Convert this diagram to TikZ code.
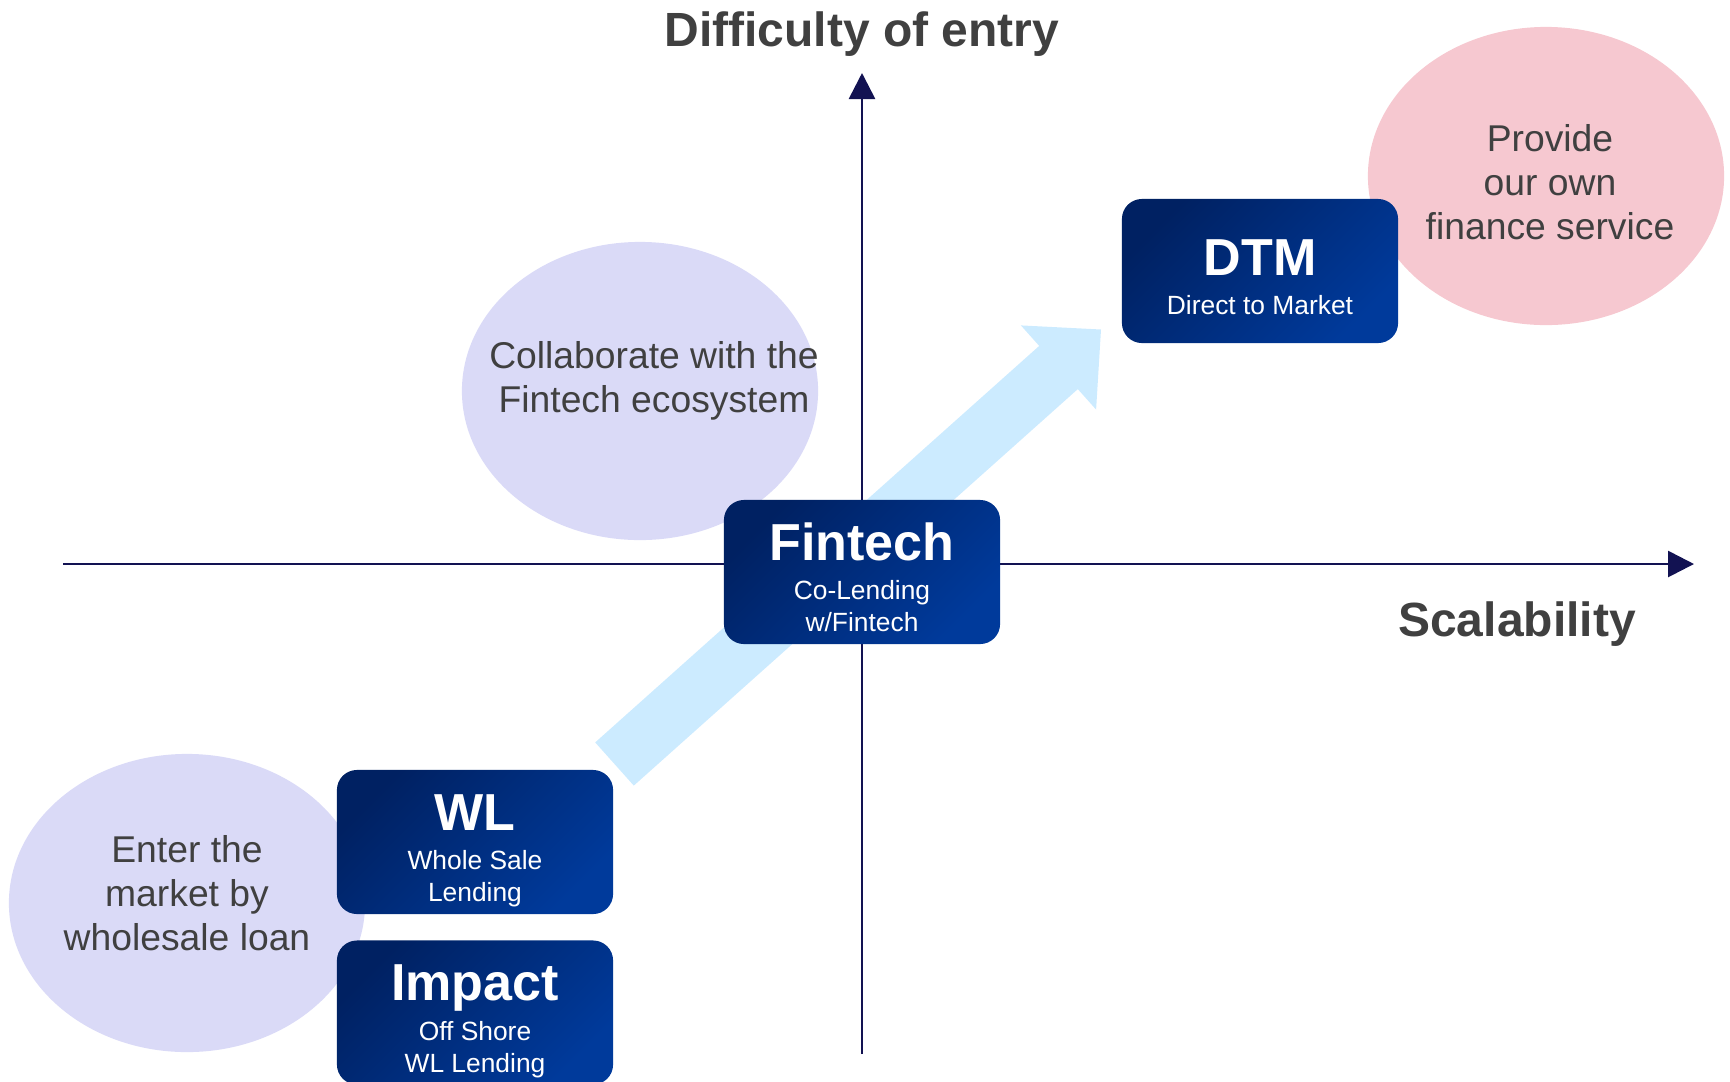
\documentclass[tikz,border=0pt]{standalone}
\usepackage{fontspec}
\setmainfont{Liberation Sans}
\usetikzlibrary{shapes.geometric,arrows.meta,positioning}
\definecolor{boxdark}{RGB}{0,33,98}
\definecolor{boxlight}{RGB}{0,58,155}
\definecolor{axisblue}{RGB}{18,18,82}
\definecolor{textgrey}{RGB}{64,64,64}
\definecolor{lavender}{RGB}{218,218,247}
\definecolor{pinkfill}{RGB}{246,200,208}
\definecolor{arrowblue}{RGB}{204,235,255}
% big first line and even last line of a box
\newcommand{\boxhead}[1]{\rule{0pt}{15.3pt}{\bfseries\fontsize{14.8}{16}\selectfont #1}}
\newcommand{\boxfoot}{\rule[-1.6pt]{0pt}{1pt}}

\begin{document}
\begin{tikzpicture}[x=0.01cm,y=-0.01cm,
  box/.style = {rounded corners=0.2cm, left color=boxdark, right color=boxlight, shading angle=45,
    minimum width=2.76cm, minimum height=1.44cm, inner sep=0pt, text=white, align=center,
    font=\fontsize{7.5}{9.1}\selectfont},
  bubble/.style = {ellipse, minimum width=3.56cm, minimum height=2.98cm, inner sep=0pt},
  note/.style = {text=textgrey, align=center, font=\fontsize{10.6}{12.6}\selectfont},
  axis/.style = {draw=axisblue, line width=0.77pt, -{Triangle[length=0.26cm,width=0.26cm]}},
  title/.style = {text=textgrey, anchor=base, font=\bfseries\fontsize{13.65}{16}\selectfont}]

\clip (0,0) rectangle (1730,1081);

% bubbles
\node[bubble, fill=lavender] (collab) at (640,391) {};
\node[bubble, fill=lavender] (enter) at (187,903) {};
\node[bubble, fill=pinkfill] (provide) at (1546,176) {};

% growth arrow
\fill[arrowblue] (595.2,742.4) -- (1039.2,345.9) -- (1020.9,325.4) -- (1101,329.5)
  -- (1096.1,409.6) -- (1077.8,389.1) -- (633.8,785.6) -- cycle;

% axes
\coordinate (xleft) at (63,564);
\coordinate (xright) at (1694,564);
\coordinate (ybottom) at (862,1054);
\coordinate (ytop) at (862,73);
\draw[axis] (xleft) -- (xright);
\draw[axis] (ybottom) -- (ytop);

% boxes
\node[box] (fintech) at (862,572) {\boxhead{Fintech}\\[2.2pt] Co-Lending\\ w/Fintech\boxfoot};
\node[box] (dtm) at (1260,271) {\boxhead{DTM}\\[2.2pt] Direct to Market\boxfoot};
\node[box] (wl) at (475,842) {\boxhead{WL}\\[2.2pt] Whole Sale\\ Lending\boxfoot};
\node[box, below=0.25cm of wl] (impact) {\boxhead{Impact}\\[2.2pt] Off Shore\\ WL Lending\boxfoot};

% notes
\node[note] (collabtext) at (654,381) {Collaborate with the\\ Fintech ecosystem};
\node[note] (entertext) at (187,893) {Enter the\\ market by\\ wholesale loan};
\node[note] (providetext) at (1550,182) {Provide\\ our own\\ finance service};

% axis titles
\node[title] (ytitle) at (862,46) {Difficulty of entry};
\node[title] (xtitle) at (1517,636) {Scalability};
\end{tikzpicture}
\end{document}
